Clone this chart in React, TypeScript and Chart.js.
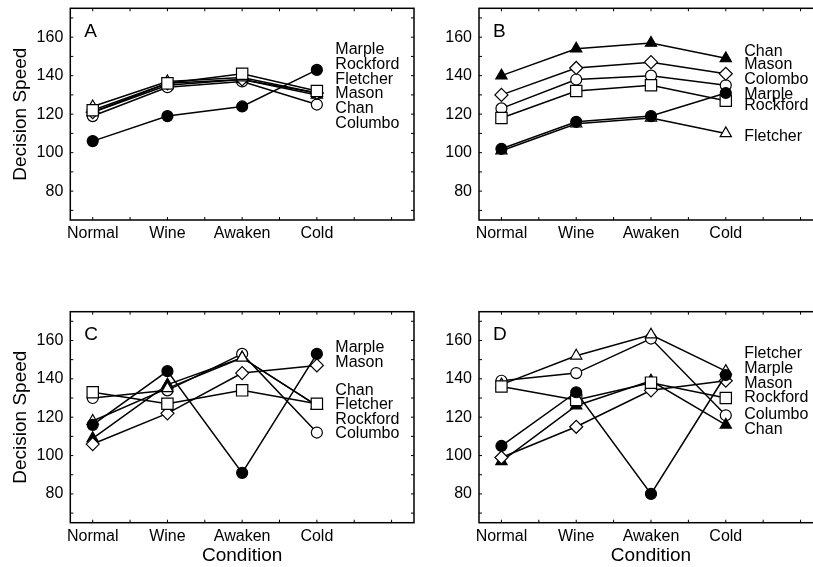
import React, { useEffect, useRef } from 'react';
import { Chart, registerables } from 'chart.js';

Chart.register(...registerables);

// ---------- data ----------
const categories = ['Normal', 'Wine', 'Awaken', 'Cold'];
const yTickLabels = [80, 100, 120, 140, 160];

// Panel A
const aMarple = [106, 119, 124, 143];
const aRockford = [122, 136, 141, 132];
const aFletcher = [124, 137, 139, 131];
const aMason = [121, 136, 138, 131];
const aChan = [121, 135, 138, 130];
const aColumbo = [119, 134, 137, 125];

// Panel B
const bMarple = [102, 116, 119, 131];
const bRockford = [118, 132, 135, 127];
const bFletcher = [101, 115, 118, 110];
const bMason = [130, 144, 147, 141];
const bChan = [140, 154, 157, 149];
const bColumbo = [123, 138, 140, 135];

// Panel C
const cMarple = [116, 144, 91, 153];
const cRockford = [133, 127, 134, 127];
const cFletcher = [118, 135, 151, 126];
const cMason = [106, 122, 143, 147];
const cChan = [109, 137, 151, 126];
const cColumbo = [130, 134, 153, 112];

// Panel D
const dMarple = [105, 133, 80, 142];
const dRockford = [136, 129, 138, 130];
const dFletcher = [137, 152, 163, 144];
const dMason = [99, 115, 134, 139];
const dChan = [97, 126, 139, 116];
const dColumbo = [139, 143, 161, 121];

// annotation labels beside the Cold column (ordered top to bottom)
const aLabels = ['Marple', 'Rockford', 'Fletcher', 'Mason', 'Chan', 'Columbo'];
const bLabels = ['Chan', 'Mason', 'Colombo', 'Marple', 'Rockford', 'Fletcher'];
const cLabels = ['Marple', 'Mason', 'Chan', 'Fletcher', 'Rockford', 'Columbo'];
const dLabels = ['Fletcher', 'Marple', 'Mason', 'Rockford', 'Columbo', 'Chan'];

// ---------- styles / layout ----------
const FONT = '"Liberation Sans", Arial, sans-serif';

const labelAnchors: Record<string, number[]> = {
  A: [153.3, 145.6, 137.8, 130.5, 123.1, 115.3],
  B: [152.7, 145.6, 137.8, 130.1, 124.5, 108.1],
  C: [156.2, 148.4, 133.8, 126.6, 119.0, 111.5],
  D: [152.9, 145.2, 137.7, 130.2, 121.5, 113.3],
};

const markerStyle: Record<string, { style: string; fill: string; radius: number }> = {
  Marple: { style: 'circle', fill: '#000', radius: 5.5 },
  Rockford: { style: 'rect', fill: '#fff', radius: 8 },
  Fletcher: { style: 'triangle', fill: '#fff', radius: 6.5 },
  Mason: { style: 'rectRot', fill: '#fff', radius: 6.5 },
  Chan: { style: 'triangle', fill: '#000', radius: 6.5 },
  Columbo: { style: 'circle', fill: '#fff', radius: 5.5 },
};

const makeDatasets = (series: Record<string, number[]>) =>
  Object.keys(series).map((name) => {
    const m = markerStyle[name];
    return {
      label: name,
      data: series[name].map((v, i) => ({ x: i, y: v })),
      borderColor: '#000',
      borderWidth: 1.5,
      pointStyle: m.style,
      pointRadius: m.radius,
      pointBackgroundColor: m.fill,
      pointBorderColor: '#000',
      pointBorderWidth: 1.2,
      fill: false,
      tension: 0,
    };
  });

const zeroPad = (s: any) => {
  s.paddingTop = 0;
  s.paddingBottom = 0;
  s.paddingLeft = 0;
  s.paddingRight = 0;
};

const panelDecor = {
  id: 'panelDecor',
  beforeDatasetsDraw(chart: any) {
    const { ctx, chartArea: a, scales } = chart;
    const xs = scales.x;
    const ys = scales.y;
    ctx.save();
    ctx.strokeStyle = '#000';
    ctx.lineWidth = 1.5;
    ctx.strokeRect(a.left, a.top, a.right - a.left, a.bottom - a.top);
    ctx.lineWidth = 1;
    ctx.beginPath();
    for (let v = 70; v <= 170; v += 10) {
      const py = ys.getPixelForValue(v);
      ctx.moveTo(a.left, py);
      ctx.lineTo(a.left + 3, py);
      ctx.moveTo(a.right, py);
      ctx.lineTo(a.right - 3, py);
    }
    for (let v = 0; v <= 4; v += 0.5) {
      const px = xs.getPixelForValue(v);
      ctx.moveTo(px, a.bottom);
      ctx.lineTo(px, a.bottom - 3);
      ctx.moveTo(px, a.top);
      ctx.lineTo(px, a.top + 3);
    }
    ctx.stroke();
    ctx.restore();
  },
  afterDraw(chart: any) {
    const o = chart.options.plugins.panelDecor;
    const { ctx, chartArea: a, scales } = chart;
    ctx.save();
    ctx.fillStyle = '#000';
    ctx.textBaseline = 'middle';
    ctx.textAlign = 'left';
    ctx.font = `19px ${FONT}`;
    ctx.fillText(o.letter, a.left + 14, a.top + 23);
    ctx.font = `16px ${FONT}`;
    const lx = scales.x.getPixelForValue(categories.length - 1) + 18.5;
    o.labels.forEach((t: string, i: number) => {
      ctx.fillText(t, lx, scales.y.getPixelForValue(o.anchors[i]));
    });
    ctx.restore();
  },
};

type PanelProps = {
  letter: string;
  series: Record<string, number[]>;
  labels: string[];
  left: number;
  top: number;
  width: number;
  height: number;
  padTop: number;
  padRight: number;
  yWidth: number;
  xHeight: number;
  yTitle: boolean;
  xTitle: boolean;
};

function Panel(p: PanelProps) {
  const ref = useRef<HTMLCanvasElement>(null);
  useEffect(() => {
    if (!ref.current) return;
    const chart = new Chart(ref.current, {
      type: 'line',
      data: { datasets: makeDatasets(p.series) as any },
      plugins: [panelDecor as any],
      options: {
        animation: false,
        responsive: false,
        maintainAspectRatio: false,
        layout: { autoPadding: false, padding: { top: p.padTop, right: p.padRight, left: 0, bottom: 0 } },
        plugins: {
          legend: { display: false },
          tooltip: { enabled: false },
          title: { display: false },
          panelDecor: { letter: p.letter, labels: p.labels, anchors: labelAnchors[p.letter] },
        } as any,
        scales: {
          x: {
            type: 'linear',
            min: -0.3,
            max: 4.3,
            grid: { display: false, drawTicks: false },
            border: { display: false },
            afterBuildTicks: (s: any) => {
              s.ticks = categories.map((_, i) => ({ value: i }));
            },
            afterFit: (s: any) => {
              s.height = p.xHeight;
              zeroPad(s);
            },
            ticks: {
              padding: 4,
              maxRotation: 0,
              autoSkip: false,
              color: '#000',
              font: { family: FONT, size: 16 },
              callback: (v: any) => categories[Math.round(Number(v))] ?? '',
            },
            title: {
              display: p.xTitle,
              text: 'Condition',
              color: '#000',
              font: { family: FONT, size: 19 },
              padding: { top: 0, bottom: 0 },
            },
          },
          y: {
            type: 'linear',
            min: 65,
            max: 175,
            grid: { display: false, drawTicks: false },
            border: { display: false },
            afterBuildTicks: (s: any) => {
              s.ticks = yTickLabels.map((v) => ({ value: v }));
            },
            afterFit: (s: any) => {
              s.width = p.yWidth;
              zeroPad(s);
            },
            ticks: {
              padding: 7,
              color: '#000',
              font: { family: FONT, size: 16 },
              callback: (v: any) => String(v),
            },
            title: {
              display: p.yTitle,
              text: 'Decision Speed',
              color: '#000',
              font: { family: FONT, size: 19 },
              padding: { top: 9, bottom: 0 },
            },
          },
        },
      } as any,
    });
    return () => chart.destroy();
  }, []);
  return (
    <canvas
      ref={ref}
      width={p.width}
      height={p.height}
      style={{ position: 'absolute', left: p.left, top: p.top, width: p.width, height: p.height }}
    />
  );
}

export default function App() {
  return (
    <div
      style={{
        position: 'absolute',
        left: 0,
        top: 0,
        width: 813,
        height: 567,
        overflow: 'hidden',
        background: '#fff',
      }}
    >
      <Panel
        letter="A"
        series={{ Marple: aMarple, Rockford: aRockford, Fletcher: aFletcher, Mason: aMason, Chan: aChan, Columbo: aColumbo }}
        labels={aLabels}
        left={0}
        top={0}
        width={420}
        height={283}
        padTop={8.3}
        padRight={6}
        yWidth={70.3}
        xHeight={63}
        yTitle={true}
        xTitle={false}
      />
      <Panel
        letter="B"
        series={{ Marple: bMarple, Rockford: bRockford, Fletcher: bFletcher, Mason: bMason, Chan: bChan, Columbo: bColumbo }}
        labels={bLabels}
        left={420}
        top={0}
        width={410}
        height={283}
        padTop={8.3}
        padRight={7}
        yWidth={59}
        xHeight={63}
        yTitle={false}
        xTitle={false}
      />
      <Panel
        letter="C"
        series={{ Marple: cMarple, Rockford: cRockford, Fletcher: cFletcher, Mason: cMason, Chan: cChan, Columbo: cColumbo }}
        labels={cLabels}
        left={0}
        top={283}
        width={420}
        height={284}
        padTop={28.7}
        padRight={6}
        yWidth={70.3}
        xHeight={44.3}
        yTitle={true}
        xTitle={true}
      />
      <Panel
        letter="D"
        series={{ Marple: dMarple, Rockford: dRockford, Fletcher: dFletcher, Mason: dMason, Chan: dChan, Columbo: dColumbo }}
        labels={dLabels}
        left={420}
        top={283}
        width={410}
        height={284}
        padTop={28.7}
        padRight={7}
        yWidth={59}
        xHeight={44.3}
        yTitle={false}
        xTitle={true}
      />
    </div>
  );
}
